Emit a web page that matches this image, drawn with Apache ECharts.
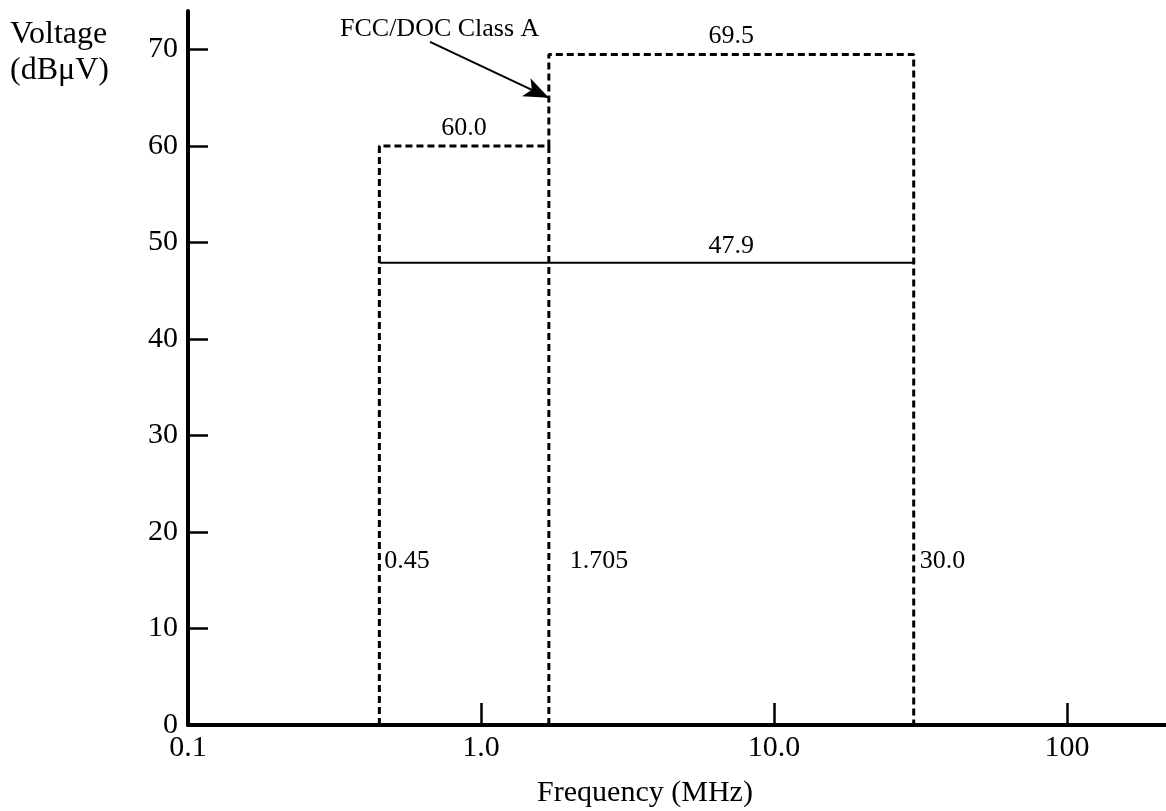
<!DOCTYPE html>
<html>
<head>
<meta charset="utf-8">
<title>FCC/DOC Class A</title>
<script src="https://cdn.jsdelivr.net/npm/echarts@6/dist/echarts.min.js"></script>
<style>
  html, body { margin: 0; padding: 0; background: #fff; }
  #chart { width: 1166px; height: 811px; }
</style>
</head>
<body>
<div id="chart"></div>
<script>
// class A limit breakpoints (MHz) and their labels
const limitFreqs = [0.45, 1.705, 30.0]
const limitFreqLabels = ['0.45', '1.705', '30.0']
// class A limit levels (dBuV) between the breakpoints
const limitLevels = [60.0, 69.5]
// solid line level (dBuV)
const lineLevel = 47.9
// axis ticks
const xTickValues = [0.1, 1, 10, 100]
const xTickLabels = ['0.1', '1.0', '10.0', '100']
const yTickValues = [0, 10, 20, 30, 40, 50, 60, 70]
// where the breakpoint labels sit and where the arrow points
const freqLabelLevel = 17
const arrowTail = [0.67, 70.8]
const arrowTip = [1.705, 65]

const FONT = '"Liberation Serif", "Times New Roman", serif'
const chart = echarts.init(document.getElementById('chart'))

const [f1, f2, f3] = limitFreqs
const [l1, l2] = limitLevels
const geo = (a, b) => Math.sqrt(a * b)

const limitData = [[f1, 0], [f1, l1], [f2, l1], [f2, l2], [f3, l2], [f3, 0]]
const dropData = [[f2, 0], [f2, l1]]
const lineData = [[f1, lineLevel], [f3, lineLevel]]

const freqGaps = [5, 21, 6]
const textData = [
    { value: [geo(f1, f2), l1], label: { position: 'top', distance: 5, formatter: l1.toFixed(1) } },
    { value: [geo(f2, f3), l2], label: { position: 'top', distance: 5, formatter: l2.toFixed(1) } },
    { value: [geo(f2, f3), lineLevel], label: { position: 'top', distance: 4, formatter: lineLevel.toFixed(1) } }
].concat(limitFreqs.map((f, i) => ({
    value: [f, freqLabelLevel],
    label: { position: 'right', distance: freqGaps[i], formatter: limitFreqLabels[i] }
})))

const dashed = { color: '#000', width: 3, type: [7, 4] }

const option = {
    backgroundColor: '#fff',
    animation: false,
    textStyle: { fontFamily: FONT, color: '#000' },
    grid: { left: 188, top: 11, width: 998, height: 714, containLabel: false, outerBoundsMode: 'none' },
    xAxis: {
        type: 'log',
        logBase: 10,
        min: 0.1,
        max: 255,
        axisLine: { show: true, onZero: false, lineStyle: { color: '#000', width: 4 } },
        axisTick: { show: true, inside: true, length: 22, lineStyle: { color: '#000', width: 2.5 } },
        axisLabel: {
            color: '#000', fontFamily: FONT, fontSize: 30, margin: 8,
            formatter: v => {
                const i = xTickValues.findIndex(t => Math.abs(t - v) < t * 1e-6)
                return i < 0 ? '' : xTickLabels[i]
            }
        },
        splitLine: { show: false },
        minorTick: { show: false }
    },
    yAxis: {
        type: 'value',
        min: 0,
        max: 74,
        axisLine: { show: true, onZero: false, lineStyle: { color: '#000', width: 4 } },
        axisTick: {
            show: true, inside: true, length: 20,
            lineStyle: { color: '#000', width: 2.5 },
            customValues: yTickValues.filter(v => v > 0)
        },
        axisLabel: { color: '#000', fontFamily: FONT, fontSize: 30, margin: 10, customValues: yTickValues },
        splitLine: { show: false }
    },
    graphic: [
        {
            type: 'text', left: 10, top: 17,
            style: { text: 'Voltage\n(dBμV)', font: '32px ' + FONT, lineHeight: 36, fill: '#000' }
        },
        {
            type: 'text', x: 340, y: 29,
            style: { text: 'FCC/DOC Class A', font: '26px ' + FONT, fill: '#000', verticalAlign: 'middle' }
        },
        {
            type: 'text', x: 645, y: 793,
            style: { text: 'Frequency (MHz)', font: '30px ' + FONT, fill: '#000', align: 'center', verticalAlign: 'middle' }
        }
    ],
    series: [
        {
            name: 'FCC/DOC Class A',
            type: 'line',
            data: limitData,
            showSymbol: false,
            lineStyle: dashed,
            silent: true,
            markLine: {
                silent: true,
                symbol: ['none', 'arrow'],
                symbolSize: [15, 25],
                label: { show: false },
                lineStyle: { color: '#000', width: 2, type: 'solid' },
                data: [[{ coord: arrowTail }, { coord: arrowTip }]]
            }
        },
        {
            type: 'line',
            data: dropData,
            showSymbol: false,
            lineStyle: dashed,
            silent: true
        },
        {
            type: 'line',
            data: lineData,
            showSymbol: false,
            lineStyle: { color: '#000', width: 2 },
            silent: true
        },
        {
            type: 'scatter',
            data: textData,
            symbolSize: 0,
            itemStyle: { color: '#000', opacity: 1 },
            silent: true,
            label: { show: true, color: '#000', opacity: 1, fontFamily: FONT, fontSize: 26 }
        }
    ]
}

chart.setOption(option)
</script>
</body>
</html>
